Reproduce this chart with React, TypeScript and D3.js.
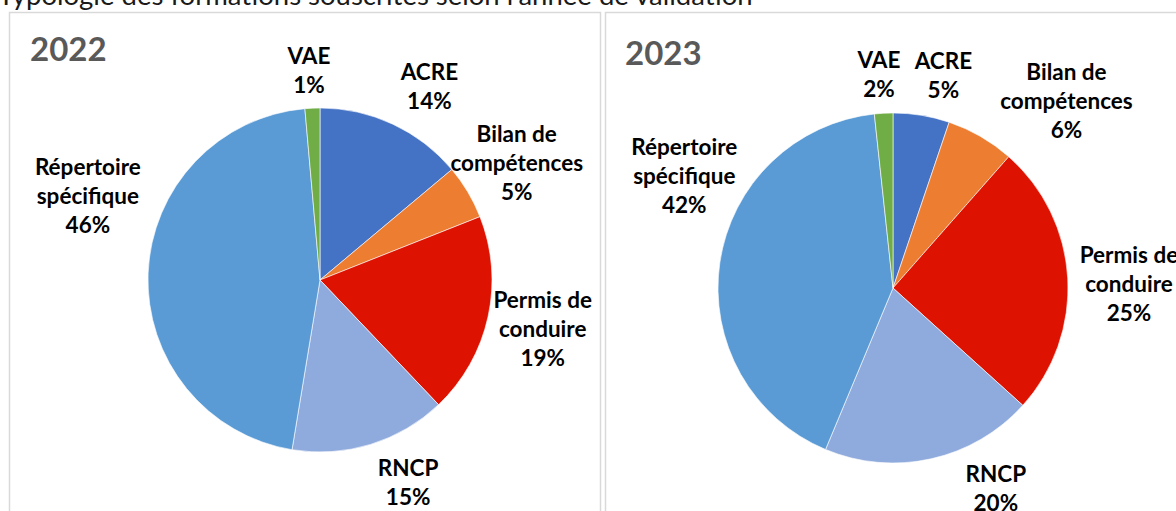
import React from "react";
import * as d3 from "d3";

// data
const categories = ["ACRE", "Bilan de compétences", "Permis de conduire", "RNCP", "Répertoire spécifique", "VAE"];
const labelLines = [["ACRE"], ["Bilan de", "compétences"], ["Permis de", "conduire"], ["RNCP"], ["Répertoire", "spécifique"], ["VAE"]];
const values2022 = [13.9, 5.1, 18.9, 14.7, 46.0, 1.4];
const values2023 = [5.2, 6.3, 25.2, 19.6, 42.0, 1.7];
const colors = ["#4472C4", "#ED7D31", "#DE1200", "#8FAADC", "#5B9BD5", "#70AD47"];
const title = "Typologie des formations souscrites selon l'année de validation";

const W = 1176;
const H = 511;
const FONT = "Lato, 'Open Sans', sans-serif";

// label placement (Excel "best fit" look): angle nudge in degrees, distance from centre
const panels = [
  {
    year: "2022", values: values2022, x: 9.5, w: 591, cx: 320, cy: 280, r: 172,
    yearX: 30, yearY: 61,
    nudge: [4.5, 0, 0, -6.4, 17.8, -0.5],
    dist: [222, 229, 228, 221, 247, 210],
  },
  {
    year: "2023", values: values2023, x: 605.5, w: 600, cx: 893, cy: 288, r: 175,
    yearX: 625, yearY: 65,
    nudge: [4, 12.8, 2.2, -14.6, 20, -0.7],
    dist: [218, 255, 236, 225, 237, 214],
  },
];

const LINE = 29;

function Pie({ p }) {
  const pie = d3.pie<number>().sort(null).value((d) => d);
  const arcs = pie(p.values);
  const arc = d3.arc<d3.PieArcDatum<number>>().innerRadius(0).outerRadius(p.r);
  const total = d3.sum(p.values);

  return (
    <g>
      <rect x={p.x} y={12.5} width={p.w} height={520} fill="#fff" stroke="#d9d9d9" strokeWidth={1.5} />
      <text x={p.yearX} y={p.yearY} fontFamily={FONT} fontWeight="bold" fontSize={33} fill="#595959">
        {p.year}
      </text>
      <g transform={`translate(${p.cx},${p.cy})`}>
        {arcs.map((a, i) => (
          <path key={categories[i]} d={arc(a) as string} fill={colors[i]} stroke="#fff" strokeWidth={0.6} />
        ))}
        {arcs.map((a, i) => {
          const mid = (a.startAngle + a.endAngle) / 2 + (p.nudge[i] * Math.PI) / 180;
          const [lx, ly] = d3.arc().innerRadius(p.dist[i]).outerRadius(p.dist[i])
            .centroid({ startAngle: mid, endAngle: mid } as any);
          const lines = [...labelLines[i], Math.round((a.value / total) * 100) + "%"];
          const n = lines.length;
          return (
            <text key={"l" + i} fontFamily={FONT} fontWeight="bold" fontSize={22.5} fill="#000" textAnchor="middle">
              {lines.map((t, k) => (
                <tspan key={k} x={lx} y={ly + (k - (n - 1) / 2) * LINE + 8}>
                  {t}
                </tspan>
              ))}
            </text>
          );
        })}
      </g>
    </g>
  );
}

export default function App() {
  return (
    <svg width={W} height={H} style={{ position: "absolute", left: 0, top: 0, background: "#fff" }}>
      <rect width={W} height={H} fill="#fff" />
      <text x={-2} y={5} fontFamily={FONT} fontSize={27.5} fill="#1a1a1a">
        {title}
      </text>
      {panels.map((p) => (
        <Pie key={p.year} p={p} />
      ))}
    </svg>
  );
}
